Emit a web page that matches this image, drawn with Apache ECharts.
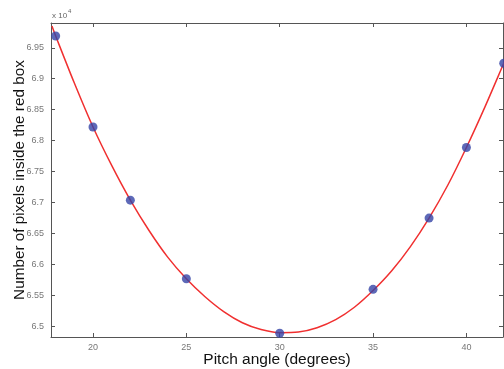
<!DOCTYPE html>
<html>
<head>
<meta charset="utf-8">
<script src="https://cdn.jsdelivr.net/npm/echarts@6/dist/echarts.min.js"></script>
<style>
html,body{margin:0;padding:0;background:#fff;}
#chart{width:504px;height:369px;}
</style>
</head>
<body>
<div id="chart"></div>
<script>
// Measured points (pitch angle in degrees, pixel count in units of 1e4)
var pitchAngles = [18, 20, 22, 25, 30, 35, 38, 40, 42];
var pixelCounts = [6.969, 6.822, 6.704, 6.577, 6.489, 6.560, 6.675, 6.789, 6.925];
// Fitted curve, values
var curveX = [17.8, 18, 19, 20, 21, 22, 23, 24, 25, 26, 27, 28, 29, 30, 31, 32, 33, 34, 35, 36, 37, 38, 39, 40, 41, 42, 42.1];
var curveY = [6.985, 6.969, 6.893, 6.822, 6.760, 6.704, 6.655, 6.612, 6.577, 6.548, 6.524, 6.506, 6.495, 6.490, 6.491, 6.498, 6.511, 6.531, 6.558, 6.590, 6.629, 6.675, 6.728, 6.789, 6.855, 6.925, 6.932];
// Tick labels
var xTicks = [20, 25, 30, 35, 40];
var yTicks = [6.5, 6.55, 6.6, 6.65, 6.7, 6.75, 6.8, 6.85, 6.9, 6.95];

var pointData = pitchAngles.map(function (x, i) { return [x, pixelCounts[i]]; });
var curveData = curveX.map(function (x, i) { return [x, curveY[i]]; });

var axisColor = '#555';
var font = 'Liberation Sans, Arial, sans-serif';
var labelStyle = { color: '#777', fontSize: 9, fontFamily: font };

var chart = echarts.init(document.getElementById('chart'), null, { renderer: 'canvas' });
chart.setOption({
  animation: false,
  backgroundColor: '#fff',
  grid: { left: 51, top: 23, right: 1, bottom: 32, containLabel: false, outerBoundsMode: 'none' },
  xAxis: [{
    type: 'value', min: 17.75, max: 41.96, position: 'bottom',
    axisLine: { show: true, lineStyle: { color: axisColor, width: 1 } },
    axisTick: { show: true, inside: true, length: 4, customValues: xTicks, lineStyle: { color: axisColor } },
    axisLabel: Object.assign({ customValues: xTicks, margin: 6 }, labelStyle),
    splitLine: { show: false },
    name: 'Pitch angle (degrees)', nameLocation: 'middle', nameGap: 15, nameMoveOverlap: false,
    nameTextStyle: { color: '#111', fontSize: 15.5, fontFamily: font }
  }, {
    type: 'value', min: 17.75, max: 41.96, position: 'top',
    axisLine: { show: true, lineStyle: { color: axisColor, width: 1 } },
    axisTick: { show: true, inside: true, length: 4, customValues: xTicks, lineStyle: { color: axisColor } },
    axisLabel: { show: false },
    splitLine: { show: false }
  }],
  yAxis: [{
    type: 'value', min: 6.483, max: 6.990, position: 'left',
    axisLine: { show: true, lineStyle: { color: axisColor, width: 1 } },
    axisTick: { show: true, inside: true, length: 4, customValues: yTicks, lineStyle: { color: axisColor } },
    axisLabel: Object.assign({ customValues: yTicks, margin: 7, formatter: function (v) { return String(+v.toFixed(2)); } }, labelStyle),
    splitLine: { show: false },
    name: 'Number of pixels inside the red box', nameLocation: 'middle', nameGap: 24, nameRotate: 90, nameMoveOverlap: false,
    nameTextStyle: { color: '#111', fontSize: 15.3, fontFamily: font }
  }, {
    type: 'value', min: 6.483, max: 6.990, position: 'right',
    axisLine: { show: true, lineStyle: { color: axisColor, width: 1 } },
    axisTick: { show: true, inside: true, length: 4, customValues: yTicks, lineStyle: { color: axisColor } },
    axisLabel: { show: false },
    splitLine: { show: false }
  }],
  graphic: [{
    type: 'text', left: 52, top: 8,
    style: {
      text: '{a|x 10}{b|4}',
      rich: {
        a: { fontSize: 8, fill: '#666', fontFamily: font, verticalAlign: 'bottom' },
        b: { fontSize: 6, fill: '#666', fontFamily: font, verticalAlign: 'top', padding: [0, 0, 6, 1] }
      }
    }
  }],
  series: [{
    type: 'line', data: curveData, smooth: 0.3, showSymbol: false, symbol: 'none',
    lineStyle: { color: '#f03030', width: 1.5 }, clip: true, z: 2
  }, {
    type: 'scatter', data: pointData, symbol: 'circle', symbolSize: 9,
    itemStyle: { color: '#3444a6' }, clip: false, z: 3
  }]
});
</script>
</body>
</html>
